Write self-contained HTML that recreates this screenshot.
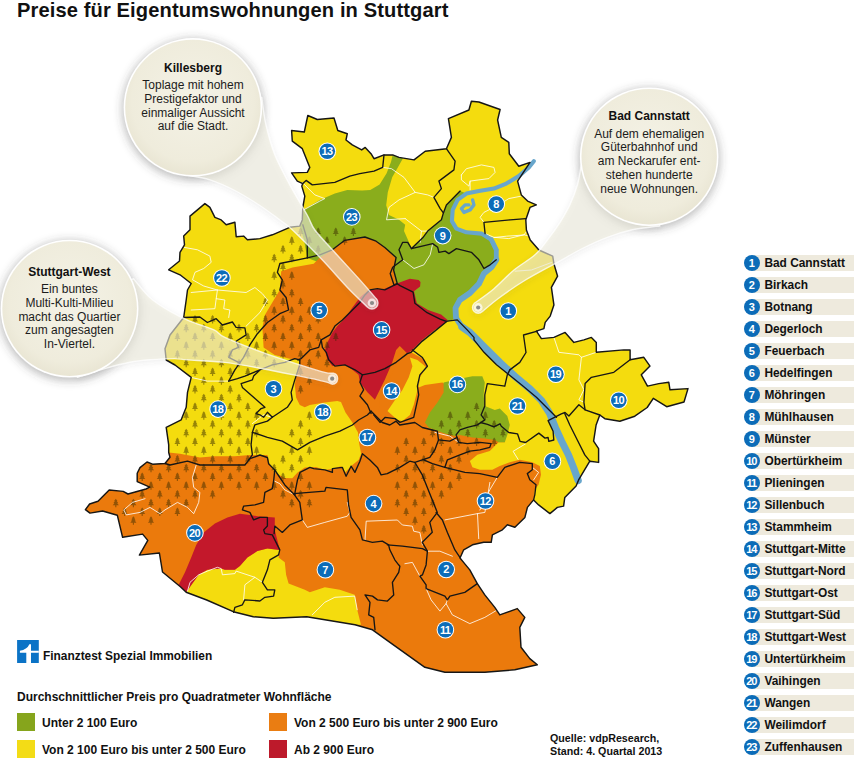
<!DOCTYPE html>
<html><head><meta charset="utf-8">
<style>
html,body{margin:0;padding:0;background:#fff;}
body{width:858px;height:761px;position:relative;overflow:hidden;font-family:"Liberation Sans",sans-serif;color:#111;}
.title{position:absolute;left:17px;top:-1px;font-size:20.1px;font-weight:bold;letter-spacing:0.12px;white-space:nowrap;}
.row{position:absolute;left:743.8px;width:112px;height:17px;}
.row .bar{position:absolute;left:9px;top:0px;width:101px;height:15.5px;background:#eeeadd;}
.row .num{position:absolute;left:0;top:0;width:16px;height:16px;border-radius:50%;background:#0c6cb8;color:#fff;font-size:11px;font-weight:bold;text-align:center;line-height:16px;}
.row .num.two{letter-spacing:-1px;text-indent:-1px;font-size:11px;}
.row .nm{position:absolute;left:20.6px;top:0px;font-size:11.9px;font-weight:bold;line-height:16px;white-space:nowrap;}
.t{position:absolute;white-space:nowrap;}
.lg{font-size:12px;font-weight:bold;}
.sw{position:absolute;width:17.5px;height:17.5px;}
svg{position:absolute;left:0;top:0;}
</style></head><body>
<svg width="858" height="761" viewBox="0 0 858 761">
<defs>
<pattern id="trees" x="-3.00" y="0.02" width="17.6" height="17.5" patternUnits="userSpaceOnUse">
<path d="M0,-3.9 L1.5,-1.9 L0.8,-1.9 L2.1,-0.2 L1.2,-0.2 L2.7,1.9 L0.5,1.9 L0.5,3.6 L-0.5,3.6 L-0.5,1.9 L-2.7,1.9 L-1.2,-0.2 L-2.1,-0.2 L-0.8,-1.9 L-1.5,-1.9 Z" transform="translate(4.40,4.38) scale(1.12)" fill="#3a2c00" fill-opacity="0.5"/>
<path d="M0,-3.9 L1.5,-1.9 L0.8,-1.9 L2.1,-0.2 L1.2,-0.2 L2.7,1.9 L0.5,1.9 L0.5,3.6 L-0.5,3.6 L-0.5,1.9 L-2.7,1.9 L-1.2,-0.2 L-2.1,-0.2 L-0.8,-1.9 L-1.5,-1.9 Z" transform="translate(13.20,13.12) scale(1.12)" fill="#3a2c00" fill-opacity="0.5"/>
</pattern>
<clipPath id="city"><polygon points="291.6,130.5 304.3,132.0 307.8,115.5 317.3,119.5 334.0,118.0 337.8,130.5 347.3,133.7 346.0,140.0 352.3,144.9 361.7,149.9 365.2,147.4 371.0,153.7 374.0,158.7 384.0,154.9 392.7,154.9 399.0,157.4 414.0,159.9 425.2,151.2 446.4,148.7 451.4,137.4 448.4,118.7 468.9,110.0 471.4,101.2 478.9,102.0 500.1,109.5 497.6,120.0 501.3,137.4 508.8,142.4 509.3,153.7 518.8,166.2 530.0,162.4 517.6,181.1 521.3,194.9 527.6,201.1 536.3,204.9 530.0,207.4 525.8,219.8 526.4,230.0 530.2,240.0 538.9,250.0 552.7,256.2 553.9,263.7 557.6,276.2 551.4,287.4 553.9,304.9 550.2,316.1 545.2,322.4 543.9,328.6 536.4,331.1 541.4,338.6 553.9,337.4 565.1,332.4 573.9,342.4 583.9,339.9 591.4,337.4 596.3,342.4 596.3,352.3 623.8,349.9 630.1,349.9 630.1,359.8 643.8,357.3 650.0,366.1 641.3,374.8 647.5,386.1 658.8,383.6 668.8,382.3 670.0,389.8 688.0,388.6 684.0,402.0 666.7,406.7 653.3,398.3 647.2,407.5 634.8,416.2 619.8,421.2 604.8,418.7 599.8,415.0 596.1,425.0 593.6,441.2 598.6,448.7 598.6,462.4 589.8,461.2 578.6,479.9 576.1,486.1 564.8,497.4 563.6,506.1 557.4,507.4 549.9,513.6 538.6,504.9 533.6,499.9 527.4,507.4 524.9,517.4 514.9,527.3 507.4,524.8 502.4,529.8 492.4,534.8 491.2,542.3 483.7,542.3 472.5,544.8 463.7,549.8 460.0,558.0 463.6,562.4 469.8,569.9 477.3,583.6 484.8,594.9 494.8,607.4 499.8,614.9 517.3,608.6 524.8,617.4 519.8,627.3 521.0,647.3 529.8,658.6 537.3,664.8 514.8,669.8 484.8,672.3 444.9,672.3 424.9,667.3 407.4,654.8 389.9,642.3 372.5,629.8 355.0,624.8 340.0,622.3 306.7,616.7 273.3,618.3 253.3,616.7 233.3,611.7 206.7,600.0 186.2,592.3 180.4,586.7 162.5,572.0 159.4,553.0 139.4,555.1 147.8,540.4 142.6,534.1 122.6,537.3 117.3,515.2 102.6,511.0 90.0,513.1 85.4,509.6 89.6,504.0 98.0,501.2 109.2,490.0 123.2,491.4 128.0,494.0 146.0,489.0 149.8,487.2 137.2,481.6 137.2,473.2 140.0,467.6 147.0,462.0 152.6,464.2 165.0,463.5 170.0,457.3 168.7,452.5 168.7,444.8 166.2,427.3 181.2,419.8 186.2,407.3 187.5,392.4 191.2,377.4 175.0,365.0 166.2,360.0 165.0,348.7 170.0,335.0 183.7,317.5 186.2,300.0 187.5,290.0 191.2,283.5 180.0,274.8 168.7,269.8 179.5,261.0 180.0,252.3 184.5,244.8 183.7,236.1 190.0,229.8 190.0,216.1 204.9,203.6 209.9,207.4 214.9,217.4 221.2,219.9 226.2,224.8 234.9,222.3 236.2,236.8 243.6,236.1 247.4,239.8 259.9,238.6 272.4,234.8 289.8,227.3 299.8,226.1 302.3,219.9 302.8,207.4 304.8,196.1 301.8,186.1 302.8,183.6 297.3,181.1 291.6,172.9 307.3,172.4 309.8,167.4 302.3,148.7 292.3,141.2"/></clipPath>
<filter id="blur" x="-30%" y="-30%" width="160%" height="160%"><feGaussianBlur stdDeviation="4"/></filter><filter id="blur2" x="-30%" y="-30%" width="160%" height="160%"><feGaussianBlur stdDeviation="3"/></filter>
<radialGradient id="bub" cx="50%" cy="45%" r="60%"><stop offset="0" stop-color="#f4f2e6"/><stop offset="0.75" stop-color="#efecdc"/><stop offset="1" stop-color="#e6e2cf"/></radialGradient>
</defs>
<polygon points="291.6,130.5 304.3,132.0 307.8,115.5 317.3,119.5 334.0,118.0 337.8,130.5 347.3,133.7 346.0,140.0 352.3,144.9 361.7,149.9 365.2,147.4 371.0,153.7 374.0,158.7 384.0,154.9 392.7,154.9 399.0,157.4 414.0,159.9 425.2,151.2 446.4,148.7 451.4,137.4 448.4,118.7 468.9,110.0 471.4,101.2 478.9,102.0 500.1,109.5 497.6,120.0 501.3,137.4 508.8,142.4 509.3,153.7 518.8,166.2 530.0,162.4 517.6,181.1 521.3,194.9 527.6,201.1 536.3,204.9 530.0,207.4 525.8,219.8 526.4,230.0 530.2,240.0 538.9,250.0 552.7,256.2 553.9,263.7 557.6,276.2 551.4,287.4 553.9,304.9 550.2,316.1 545.2,322.4 543.9,328.6 536.4,331.1 541.4,338.6 553.9,337.4 565.1,332.4 573.9,342.4 583.9,339.9 591.4,337.4 596.3,342.4 596.3,352.3 623.8,349.9 630.1,349.9 630.1,359.8 643.8,357.3 650.0,366.1 641.3,374.8 647.5,386.1 658.8,383.6 668.8,382.3 670.0,389.8 688.0,388.6 684.0,402.0 666.7,406.7 653.3,398.3 647.2,407.5 634.8,416.2 619.8,421.2 604.8,418.7 599.8,415.0 596.1,425.0 593.6,441.2 598.6,448.7 598.6,462.4 589.8,461.2 578.6,479.9 576.1,486.1 564.8,497.4 563.6,506.1 557.4,507.4 549.9,513.6 538.6,504.9 533.6,499.9 527.4,507.4 524.9,517.4 514.9,527.3 507.4,524.8 502.4,529.8 492.4,534.8 491.2,542.3 483.7,542.3 472.5,544.8 463.7,549.8 460.0,558.0 463.6,562.4 469.8,569.9 477.3,583.6 484.8,594.9 494.8,607.4 499.8,614.9 517.3,608.6 524.8,617.4 519.8,627.3 521.0,647.3 529.8,658.6 537.3,664.8 514.8,669.8 484.8,672.3 444.9,672.3 424.9,667.3 407.4,654.8 389.9,642.3 372.5,629.8 355.0,624.8 340.0,622.3 306.7,616.7 273.3,618.3 253.3,616.7 233.3,611.7 206.7,600.0 186.2,592.3 180.4,586.7 162.5,572.0 159.4,553.0 139.4,555.1 147.8,540.4 142.6,534.1 122.6,537.3 117.3,515.2 102.6,511.0 90.0,513.1 85.4,509.6 89.6,504.0 98.0,501.2 109.2,490.0 123.2,491.4 128.0,494.0 146.0,489.0 149.8,487.2 137.2,481.6 137.2,473.2 140.0,467.6 147.0,462.0 152.6,464.2 165.0,463.5 170.0,457.3 168.7,452.5 168.7,444.8 166.2,427.3 181.2,419.8 186.2,407.3 187.5,392.4 191.2,377.4 175.0,365.0 166.2,360.0 165.0,348.7 170.0,335.0 183.7,317.5 186.2,300.0 187.5,290.0 191.2,283.5 180.0,274.8 168.7,269.8 179.5,261.0 180.0,252.3 184.5,244.8 183.7,236.1 190.0,229.8 190.0,216.1 204.9,203.6 209.9,207.4 214.9,217.4 221.2,219.9 226.2,224.8 234.9,222.3 236.2,236.8 243.6,236.1 247.4,239.8 259.9,238.6 272.4,234.8 289.8,227.3 299.8,226.1 302.3,219.9 302.8,207.4 304.8,196.1 301.8,186.1 302.8,183.6 297.3,181.1 291.6,172.9 307.3,172.4 309.8,167.4 302.3,148.7 292.3,141.2" fill="#f4dc0e"/>
<polygon points="303.6,209.9 319.8,199.9 334.8,193.6 347.3,189.9 362.0,190.5 370.3,190.0 379.6,184.5 386.5,173.6 391.0,162.0 392.7,154.9 399.0,157.4 403.0,158.3 397.5,168.0 392.2,177.3 387.8,192.3 386.2,205.3 389.0,215.0 399.0,219.8 405.2,224.8 404.0,231.1 409.0,242.3 411.5,248.6 422.7,237.8 427.7,231.1 441.4,219.8 443.4,212.9 446.4,204.9 460.1,191.1 466.4,193.6 457.6,199.9 452.7,209.9 451.9,221.1 456.4,228.6 466.4,232.3 481.4,233.6 491.4,239.8 496.3,249.8 496.3,259.8 491.4,267.3 483.9,273.5 479.0,283.7 470.0,293.0 459.8,300.0 455.5,308.0 456.0,318.0 430.0,330.0 380.0,320.0 340.0,270.0 307.3,258.0 304.0,240.0 299.8,226.1 302.3,219.9" fill="#8aad1c"/>
<polygon points="279.8,290.0 281.2,271.2 292.5,267.5 313.7,263.7 319.9,257.5 332.4,250.0 344.9,240.0 357.4,237.5 369.9,238.7 377.4,241.2 384.8,247.5 392.3,255.0 396.1,258.7 393.6,269.9 396.1,283.7 410.0,300.0 415.0,345.0 411.1,352.3 412.0,357.5 412.4,366.2 408.7,377.4 402.4,389.9 395.0,399.9 387.5,411.1 390.0,440.0 361.1,453.7 359.0,442.4 358.0,432.5 352.4,422.5 345.5,412.5 341.0,402.0 337.3,401.1 324.8,402.4 309.8,404.9 304.8,407.3 299.8,404.9 296.1,397.4 294.8,384.9 297.3,369.9 299.8,359.9 289.8,358.7 274.8,354.9 263.6,347.4 262.4,327.4 264.9,315.0 272.3,302.5" fill="#eb7a0c"/>
<polygon points="168.7,452.5 180.0,453.7 199.9,457.5 214.9,456.2 234.9,456.2 249.9,455.0 267.4,455.0 269.9,465.0 274.8,472.5 284.8,477.9 292.3,478.2 297.3,472.7 304.8,467.5 316.0,467.0 324.8,470.0 332.4,468.7 341.1,466.2 344.9,472.4 348.6,468.7 352.4,464.9 358.6,459.9 361.1,453.7 375.0,440.0 380.0,400.0 405.0,345.0 411.1,352.3 424.8,359.8 427.3,366.1 419.8,377.3 418.7,387.4 424.9,384.9 442.4,382.4 470.0,400.0 500.0,425.0 504.8,442.3 498.6,442.3 489.8,451.1 477.4,454.8 469.9,461.1 472.4,467.3 479.9,469.8 492.3,469.8 499.8,466.1 509.8,462.3 519.8,459.8 532.3,462.3 539.8,466.1 541.0,474.8 538.5,484.8 534.8,489.8 533.6,499.9 533.6,499.9 527.4,507.4 524.9,517.4 514.9,527.3 507.4,524.8 502.4,529.8 492.4,534.8 491.2,542.3 483.7,542.3 472.5,544.8 463.7,549.8 460.0,558.0 463.6,562.4 469.8,569.9 477.3,583.6 484.8,594.9 494.8,607.4 499.8,614.9 517.3,608.6 524.8,617.4 519.8,627.3 521.0,647.3 529.8,658.6 537.3,664.8 514.8,669.8 484.8,672.3 444.9,672.3 424.9,667.3 407.4,654.8 389.9,642.3 372.5,629.8 355.0,624.8 340.0,622.3 306.7,616.7 273.3,618.3 253.3,616.7 233.3,611.7 206.7,600.0 186.2,592.3 180.4,586.7 162.5,572.0 159.4,553.0 139.4,555.1 147.8,540.4 142.6,534.1 122.6,537.3 117.3,515.2 102.6,511.0 90.0,513.1 85.4,509.6 89.6,504.0 98.0,501.2 109.2,490.0 123.2,491.4 128.0,494.0 146.0,489.0 149.8,487.2 137.2,481.6 137.2,473.2 140.0,467.6 147.0,462.0 152.6,464.2 165.0,463.5 170.0,457.3" fill="#eb7a0c"/>
<polygon points="409.9,357.5 417.4,360.0 423.7,364.9 427.4,368.7 419.9,374.9 418.7,384.9 416.2,394.9 413.7,404.9 409.9,414.9 402.4,421.1 397.5,419.9 387.5,411.1 395.0,399.9 402.4,389.9 408.7,377.4 412.4,366.2" fill="#f4dc0e"/>
<polygon points="186.2,592.3 192.4,583.6 198.7,574.8 207.4,569.8 221.2,568.6 224.9,569.8 234.9,569.8 239.9,566.1 247.4,557.4 257.4,551.1 267.4,548.6 279.8,549.9 278.6,557.4 284.8,562.3 286.1,574.8 288.6,583.6 304.8,589.8 309.8,592.3 324.8,587.3 339.8,589.8 354.7,594.8 357.2,609.8 361.0,624.8 355.0,624.8 340.0,622.3 306.7,616.7 273.3,618.3 253.3,616.7 233.3,611.7 206.7,600.0 186.2,592.3" fill="#f4dc0e"/>
<polygon points="443.6,382.4 459.9,378.7 472.4,376.2 482.3,376.2 484.8,382.4 483.6,394.9 484.8,406.1 494.8,409.9 499.8,408.6 507.3,416.1 509.8,424.9 507.3,434.9 504.8,442.3 498.6,442.3 494.8,439.9 484.8,438.6 472.4,437.4 459.9,434.9 454.9,436.1 444.9,433.6 434.9,429.9 428.7,427.4 424.9,422.4 429.9,412.4 437.4,402.4 443.6,392.4" fill="#8aad1c"/>
<polygon points="368.6,289.9 384.8,288.7 396.1,283.7 409.8,278.7 418.6,279.9 420.5,282.0 420.1,286.5 414.0,291.2 416.8,303.3 428.0,309.9 441.1,314.5 447.6,320.1 444.8,323.6 434.8,329.9 422.3,339.9 412.3,349.9 407.3,353.6 399.8,346.1 396.1,349.9 392.3,362.3 384.8,379.8 374.9,399.8 367.4,392.3 359.9,382.3 358.6,374.8 352.4,369.8 344.9,364.8 332.4,366.1 327.4,359.8 324.9,349.9 327.4,342.4 332.4,332.4 337.4,326.1 344.9,318.6 352.4,307.4 359.9,297.4" fill="#c3182b"/>
<polygon points="239.9,513.7 249.9,514.9 257.4,516.2 274.8,517.4 274.8,529.9 277.3,539.9 279.8,549.9 267.4,548.6 257.4,551.1 247.4,557.4 239.9,566.1 234.9,569.8 224.9,569.8 221.2,568.6 207.4,569.8 198.7,574.8 192.4,583.6 186.2,592.3 178.7,584.8 185.0,572.3 191.2,557.4 196.2,544.9 203.7,532.4 214.9,523.6 227.4,517.4" fill="#c3182b"/>
<defs><path id="tr" d="M0,-3.9 L1.5,-1.9 L0.8,-1.9 L2.1,-0.2 L1.2,-0.2 L2.7,1.9 L0.5,1.9 L0.5,3.6 L-0.5,3.6 L-0.5,1.9 L-2.7,1.9 L-1.2,-0.2 L-2.1,-0.2 L-0.8,-1.9 L-1.5,-1.9 Z" transform="scale(1.12)"/></defs><g fill="#3a2c00" fill-opacity="0.5"><use href="#tr" x="291.8" y="240.6"/><use href="#tr" x="300.6" y="231.9"/><use href="#tr" x="309.4" y="240.6"/><use href="#tr" x="318.2" y="231.9"/><use href="#tr" x="327.0" y="240.6"/><use href="#tr" x="335.8" y="231.9"/><use href="#tr" x="344.6" y="240.6"/><use href="#tr" x="353.4" y="231.9"/><use href="#tr" x="274.2" y="258.1"/><use href="#tr" x="283.0" y="249.4"/><use href="#tr" x="291.8" y="258.1"/><use href="#tr" x="300.6" y="249.4"/><use href="#tr" x="318.2" y="249.4"/><use href="#tr" x="274.2" y="275.6"/><use href="#tr" x="283.0" y="266.9"/><use href="#tr" x="291.8" y="275.6"/><use href="#tr" x="274.2" y="293.1"/><use href="#tr" x="283.0" y="284.4"/><use href="#tr" x="291.8" y="293.1"/><use href="#tr" x="265.4" y="301.9"/><use href="#tr" x="274.2" y="310.6"/><use href="#tr" x="283.0" y="301.9"/><use href="#tr" x="291.8" y="310.6"/><use href="#tr" x="300.6" y="301.9"/><use href="#tr" x="309.4" y="310.6"/><use href="#tr" x="186.2" y="328.1"/><use href="#tr" x="195.0" y="319.4"/><use href="#tr" x="203.8" y="328.1"/><use href="#tr" x="212.6" y="319.4"/><use href="#tr" x="221.4" y="328.1"/><use href="#tr" x="239.0" y="328.1"/><use href="#tr" x="256.6" y="328.1"/><use href="#tr" x="265.4" y="319.4"/><use href="#tr" x="274.2" y="328.1"/><use href="#tr" x="283.0" y="319.4"/><use href="#tr" x="291.8" y="328.1"/><use href="#tr" x="300.6" y="319.4"/><use href="#tr" x="309.4" y="328.1"/><use href="#tr" x="318.2" y="319.4"/><use href="#tr" x="177.4" y="336.9"/><use href="#tr" x="186.2" y="345.6"/><use href="#tr" x="195.0" y="336.9"/><use href="#tr" x="203.8" y="345.6"/><use href="#tr" x="212.6" y="336.9"/><use href="#tr" x="221.4" y="345.6"/><use href="#tr" x="230.2" y="336.9"/><use href="#tr" x="239.0" y="345.6"/><use href="#tr" x="247.8" y="336.9"/><use href="#tr" x="256.6" y="345.6"/><use href="#tr" x="265.4" y="336.9"/><use href="#tr" x="274.2" y="345.6"/><use href="#tr" x="283.0" y="336.9"/><use href="#tr" x="291.8" y="345.6"/><use href="#tr" x="300.6" y="336.9"/><use href="#tr" x="309.4" y="345.6"/><use href="#tr" x="318.2" y="336.9"/><use href="#tr" x="327.0" y="345.6"/><use href="#tr" x="335.8" y="336.9"/><use href="#tr" x="177.4" y="354.4"/><use href="#tr" x="186.2" y="363.1"/><use href="#tr" x="195.0" y="354.4"/><use href="#tr" x="203.8" y="363.1"/><use href="#tr" x="212.6" y="354.4"/><use href="#tr" x="221.4" y="363.1"/><use href="#tr" x="230.2" y="354.4"/><use href="#tr" x="239.0" y="363.1"/><use href="#tr" x="247.8" y="354.4"/><use href="#tr" x="256.6" y="363.1"/><use href="#tr" x="265.4" y="354.4"/><use href="#tr" x="274.2" y="363.1"/><use href="#tr" x="283.0" y="354.4"/><use href="#tr" x="300.6" y="354.4"/><use href="#tr" x="309.4" y="363.1"/><use href="#tr" x="318.2" y="354.4"/><use href="#tr" x="327.0" y="363.1"/><use href="#tr" x="195.0" y="371.9"/><use href="#tr" x="203.8" y="380.6"/><use href="#tr" x="212.6" y="371.9"/><use href="#tr" x="221.4" y="380.6"/><use href="#tr" x="230.2" y="371.9"/><use href="#tr" x="247.8" y="371.9"/><use href="#tr" x="300.6" y="371.9"/><use href="#tr" x="309.4" y="380.6"/><use href="#tr" x="195.0" y="389.4"/><use href="#tr" x="203.8" y="398.1"/><use href="#tr" x="212.6" y="389.4"/><use href="#tr" x="221.4" y="398.1"/><use href="#tr" x="230.2" y="389.4"/><use href="#tr" x="239.0" y="398.1"/><use href="#tr" x="300.6" y="389.4"/><use href="#tr" x="186.2" y="415.6"/><use href="#tr" x="195.0" y="406.9"/><use href="#tr" x="203.8" y="415.6"/><use href="#tr" x="212.6" y="406.9"/><use href="#tr" x="221.4" y="415.6"/><use href="#tr" x="230.2" y="406.9"/><use href="#tr" x="239.0" y="415.6"/><use href="#tr" x="247.8" y="406.9"/><use href="#tr" x="256.6" y="415.6"/><use href="#tr" x="309.4" y="415.6"/><use href="#tr" x="450.2" y="415.6"/><use href="#tr" x="467.8" y="415.6"/><use href="#tr" x="476.6" y="406.9"/><use href="#tr" x="485.4" y="415.6"/><use href="#tr" x="186.2" y="433.1"/><use href="#tr" x="195.0" y="424.4"/><use href="#tr" x="203.8" y="433.1"/><use href="#tr" x="212.6" y="424.4"/><use href="#tr" x="221.4" y="433.1"/><use href="#tr" x="230.2" y="424.4"/><use href="#tr" x="239.0" y="433.1"/><use href="#tr" x="247.8" y="424.4"/><use href="#tr" x="256.6" y="433.1"/><use href="#tr" x="291.8" y="433.1"/><use href="#tr" x="300.6" y="424.4"/><use href="#tr" x="309.4" y="433.1"/><use href="#tr" x="432.6" y="433.1"/><use href="#tr" x="441.4" y="424.4"/><use href="#tr" x="450.2" y="433.1"/><use href="#tr" x="459.0" y="424.4"/><use href="#tr" x="467.8" y="433.1"/><use href="#tr" x="476.6" y="424.4"/><use href="#tr" x="485.4" y="433.1"/><use href="#tr" x="494.2" y="424.4"/><use href="#tr" x="503.0" y="433.1"/><use href="#tr" x="177.4" y="441.9"/><use href="#tr" x="186.2" y="450.6"/><use href="#tr" x="195.0" y="441.9"/><use href="#tr" x="203.8" y="450.6"/><use href="#tr" x="212.6" y="441.9"/><use href="#tr" x="221.4" y="450.6"/><use href="#tr" x="230.2" y="441.9"/><use href="#tr" x="239.0" y="450.6"/><use href="#tr" x="247.8" y="441.9"/><use href="#tr" x="256.6" y="450.6"/><use href="#tr" x="291.8" y="450.6"/><use href="#tr" x="300.6" y="441.9"/><use href="#tr" x="309.4" y="450.6"/><use href="#tr" x="397.4" y="450.6"/><use href="#tr" x="406.2" y="441.9"/><use href="#tr" x="415.0" y="450.6"/><use href="#tr" x="423.8" y="441.9"/><use href="#tr" x="432.6" y="450.6"/><use href="#tr" x="441.4" y="441.9"/><use href="#tr" x="450.2" y="450.6"/><use href="#tr" x="459.0" y="441.9"/><use href="#tr" x="467.8" y="450.6"/><use href="#tr" x="476.6" y="441.9"/><use href="#tr" x="494.2" y="441.9"/><use href="#tr" x="151.0" y="468.1"/><use href="#tr" x="168.6" y="468.1"/><use href="#tr" x="177.4" y="459.4"/><use href="#tr" x="186.2" y="468.1"/><use href="#tr" x="195.0" y="459.4"/><use href="#tr" x="203.8" y="468.1"/><use href="#tr" x="212.6" y="459.4"/><use href="#tr" x="221.4" y="468.1"/><use href="#tr" x="230.2" y="459.4"/><use href="#tr" x="239.0" y="468.1"/><use href="#tr" x="247.8" y="459.4"/><use href="#tr" x="256.6" y="468.1"/><use href="#tr" x="274.2" y="468.1"/><use href="#tr" x="283.0" y="459.4"/><use href="#tr" x="291.8" y="468.1"/><use href="#tr" x="300.6" y="459.4"/><use href="#tr" x="397.4" y="468.1"/><use href="#tr" x="406.2" y="459.4"/><use href="#tr" x="415.0" y="468.1"/><use href="#tr" x="423.8" y="459.4"/><use href="#tr" x="432.6" y="468.1"/><use href="#tr" x="441.4" y="459.4"/><use href="#tr" x="450.2" y="468.1"/><use href="#tr" x="459.0" y="459.4"/><use href="#tr" x="142.2" y="476.9"/><use href="#tr" x="151.0" y="485.6"/><use href="#tr" x="159.8" y="476.9"/><use href="#tr" x="168.6" y="485.6"/><use href="#tr" x="177.4" y="476.9"/><use href="#tr" x="186.2" y="485.6"/><use href="#tr" x="195.0" y="476.9"/><use href="#tr" x="203.8" y="485.6"/><use href="#tr" x="212.6" y="476.9"/><use href="#tr" x="221.4" y="485.6"/><use href="#tr" x="230.2" y="476.9"/><use href="#tr" x="239.0" y="485.6"/><use href="#tr" x="247.8" y="476.9"/><use href="#tr" x="256.6" y="485.6"/><use href="#tr" x="265.4" y="476.9"/><use href="#tr" x="274.2" y="485.6"/><use href="#tr" x="283.0" y="476.9"/><use href="#tr" x="291.8" y="485.6"/><use href="#tr" x="300.6" y="476.9"/><use href="#tr" x="309.4" y="485.6"/><use href="#tr" x="397.4" y="485.6"/><use href="#tr" x="406.2" y="476.9"/><use href="#tr" x="415.0" y="485.6"/><use href="#tr" x="423.8" y="476.9"/><use href="#tr" x="432.6" y="485.6"/><use href="#tr" x="441.4" y="476.9"/><use href="#tr" x="450.2" y="485.6"/><use href="#tr" x="459.0" y="476.9"/><use href="#tr" x="115.8" y="503.1"/><use href="#tr" x="133.4" y="503.1"/><use href="#tr" x="142.2" y="494.4"/><use href="#tr" x="151.0" y="503.1"/><use href="#tr" x="159.8" y="494.4"/><use href="#tr" x="168.6" y="503.1"/><use href="#tr" x="177.4" y="494.4"/><use href="#tr" x="186.2" y="503.1"/><use href="#tr" x="195.0" y="494.4"/><use href="#tr" x="212.6" y="494.4"/><use href="#tr" x="283.0" y="494.4"/><use href="#tr" x="291.8" y="503.1"/><use href="#tr" x="300.6" y="494.4"/><use href="#tr" x="309.4" y="503.1"/><use href="#tr" x="397.4" y="503.1"/><use href="#tr" x="406.2" y="494.4"/><use href="#tr" x="415.0" y="503.1"/><use href="#tr" x="423.8" y="494.4"/><use href="#tr" x="432.6" y="503.1"/><use href="#tr" x="441.4" y="494.4"/><use href="#tr" x="124.6" y="511.9"/><use href="#tr" x="133.4" y="520.6"/><use href="#tr" x="142.2" y="511.9"/><use href="#tr" x="151.0" y="520.6"/><use href="#tr" x="159.8" y="511.9"/><use href="#tr" x="177.4" y="511.9"/><use href="#tr" x="406.2" y="511.9"/><use href="#tr" x="415.0" y="520.6"/><use href="#tr" x="423.8" y="511.9"/><use href="#tr" x="423.8" y="529.4"/></g>
<polyline points="302.3,182.4 314.8,194.9 324.8,198.6 319.8,201.1 303.6,209.9" fill="none" stroke="#fff" stroke-width="0.9" stroke-linejoin="round" stroke-linecap="round" stroke-opacity="0.9"/>
<polyline points="196.2,465.0 192.4,477.5 193.7,487.4 199.9,492.4 198.7,502.4 193.7,513.7 187.5,507.4 177.5,502.4 165.0,509.9 160.0,513.7 150.0,507.4 140.0,512.4 126.3,514.9 123.8,509.9 132.5,502.4 145.0,498.7" fill="none" stroke="#fff" stroke-width="0.9" stroke-linejoin="round" stroke-linecap="round" stroke-opacity="0.9"/>
<polyline points="187.5,591.1 190.0,582.3 198.7,574.8 207.4,571.1 217.4,567.3 221.2,568.6 222.4,574.8 234.9,573.6 236.1,571.1 254.9,577.3 244.9,584.8 243.6,599.8" fill="none" stroke="#fff" stroke-width="0.9" stroke-linejoin="round" stroke-linecap="round" stroke-opacity="0.9"/>
<polyline points="254.9,577.3 262.4,582.3" fill="none" stroke="#fff" stroke-width="0.9" stroke-linejoin="round" stroke-linecap="round" stroke-opacity="0.9"/>
<polyline points="302.3,519.9 307.3,527.4 324.8,522.4 347.3,516.2 349.8,512.4 347.3,502.4" fill="none" stroke="#fff" stroke-width="0.9" stroke-linejoin="round" stroke-linecap="round" stroke-opacity="0.9"/>
<polyline points="312.3,614.8 324.8,602.3 334.8,597.3 354.7,596.1 357.2,609.8" fill="none" stroke="#fff" stroke-width="0.9" stroke-linejoin="round" stroke-linecap="round" stroke-opacity="0.9"/>
<polyline points="489.9,482.4 484.9,512.4 477.5,513.6 445.0,519.9" fill="none" stroke="#fff" stroke-width="0.9" stroke-linejoin="round" stroke-linecap="round" stroke-opacity="0.9"/>
<polyline points="477.5,513.6 478.7,538.6" fill="none" stroke="#fff" stroke-width="0.9" stroke-linejoin="round" stroke-linecap="round" stroke-opacity="0.9"/>
<polyline points="525.6,443.8 513.1,451.3 518.1,459.4" fill="none" stroke="#fff" stroke-width="0.9" stroke-linejoin="round" stroke-linecap="round" stroke-opacity="0.9"/>
<polyline points="532.4,467.4 538.6,472.4 533.6,479.9" fill="none" stroke="#fff" stroke-width="0.9" stroke-linejoin="round" stroke-linecap="round" stroke-opacity="0.9"/>
<polyline points="553.9,337.4 558.9,352.3 578.9,354.8 581.4,357.3 596.3,352.3" fill="none" stroke="#fff" stroke-width="0.9" stroke-linejoin="round" stroke-linecap="round" stroke-opacity="0.9"/>
<polyline points="581.4,357.3 578.9,379.8 583.9,389.8 578.9,399.8 583.9,402.3" fill="none" stroke="#fff" stroke-width="0.9" stroke-linejoin="round" stroke-linecap="round" stroke-opacity="0.9"/>
<polyline points="426.1,588.6 431.1,599.9 439.9,611.1 446.1,603.6 447.4,599.9" fill="none" stroke="#fff" stroke-width="0.9" stroke-linejoin="round" stroke-linecap="round" stroke-opacity="0.9"/>
<polyline points="446.1,603.6 452.4,614.9 469.8,623.6 484.8,617.4 497.3,609.9" fill="none" stroke="#fff" stroke-width="0.9" stroke-linejoin="round" stroke-linecap="round" stroke-opacity="0.9"/>
<polyline points="404.9,563.7 412.4,562.4 419.9,576.2" fill="none" stroke="#fff" stroke-width="0.9" stroke-linejoin="round" stroke-linecap="round" stroke-opacity="0.9"/>
<polyline points="427.4,551.2 439.9,551.2 452.4,556.2" fill="none" stroke="#fff" stroke-width="0.9" stroke-linejoin="round" stroke-linecap="round" stroke-opacity="0.9"/>
<polyline points="365.0,540.0 366.2,521.2 397.4,520.0 402.4,525.0 412.4,526.2 413.7,531.2 419.9,532.5 422.4,544.9" fill="none" stroke="#fff" stroke-width="0.9" stroke-linejoin="round" stroke-linecap="round" stroke-opacity="0.9"/>
<polyline points="461.4,174.9 466.4,168.7 481.4,164.9 493.9,167.4 495.1,172.4 488.9,178.6 478.9,179.9 470.1,181.1 468.9,186.1 461.4,179.9 461.4,174.9" fill="none" stroke="#fff" stroke-width="0.9" stroke-linejoin="round" stroke-linecap="round" stroke-opacity="0.9"/>
<polyline points="470.1,181.1 470.1,189.9" fill="none" stroke="#fff" stroke-width="0.9" stroke-linejoin="round" stroke-linecap="round" stroke-opacity="0.9"/>
<polyline points="521.3,196.1 508.8,198.6 498.8,204.9 483.9,212.4 480.1,217.3 483.9,222.3" fill="none" stroke="#fff" stroke-width="0.9" stroke-linejoin="round" stroke-linecap="round" stroke-opacity="0.9"/>
<polyline points="485.1,233.6 493.9,237.3 508.8,238.6 523.8,234.8 530.1,236.1" fill="none" stroke="#fff" stroke-width="0.9" stroke-linejoin="round" stroke-linecap="round" stroke-opacity="0.9"/>
<polyline points="382.7,167.4 391.5,168.7 404.0,177.4 415.2,192.4 399.0,199.9 389.0,207.4 386.5,219.8 405.2,218.6" fill="none" stroke="#fff" stroke-width="0.9" stroke-linejoin="round" stroke-linecap="round" stroke-opacity="0.9"/>
<polyline points="415.2,192.4 427.7,194.9 433.9,197.4" fill="none" stroke="#fff" stroke-width="0.9" stroke-linejoin="round" stroke-linecap="round" stroke-opacity="0.9"/>
<polyline points="405.2,218.6 421.4,231.1 427.7,231.1" fill="none" stroke="#fff" stroke-width="0.9" stroke-linejoin="round" stroke-linecap="round" stroke-opacity="0.9"/>
<polyline points="421.4,231.1 420.2,242.3" fill="none" stroke="#fff" stroke-width="0.9" stroke-linejoin="round" stroke-linecap="round" stroke-opacity="0.9"/>
<polyline points="432.7,243.6 430.2,254.8 423.9,264.8 414.0,268.5 402.7,259.8" fill="none" stroke="#fff" stroke-width="0.9" stroke-linejoin="round" stroke-linecap="round" stroke-opacity="0.9"/>
<polyline points="183.7,247.3 197.5,249.8 209.9,256.1 211.2,262.3 203.7,268.5 195.0,272.3 192.5,279.8 203.7,286.0 217.4,290.0" fill="none" stroke="#fff" stroke-width="0.9" stroke-linejoin="round" stroke-linecap="round" stroke-opacity="0.9"/>
<polyline points="191.2,292.5 217.4,290.0 246.1,292.5 254.9,287.5 262.4,293.7 267.4,300.0" fill="none" stroke="#fff" stroke-width="0.9" stroke-linejoin="round" stroke-linecap="round" stroke-opacity="0.9"/>
<polyline points="217.4,290.0 216.2,298.7 224.9,300.0 223.7,308.7 229.9,310.0 228.7,317.5" fill="none" stroke="#fff" stroke-width="0.9" stroke-linejoin="round" stroke-linecap="round" stroke-opacity="0.9"/>
<polyline points="191.2,310.0 214.9,308.7 216.2,298.7" fill="none" stroke="#fff" stroke-width="0.9" stroke-linejoin="round" stroke-linecap="round" stroke-opacity="0.9"/>
<polyline points="267.4,300.0 259.9,312.5 246.1,326.2" fill="none" stroke="#fff" stroke-width="0.9" stroke-linejoin="round" stroke-linecap="round" stroke-opacity="0.9"/>
<polyline points="191.2,377.4 207.4,381.1 228.7,381.1" fill="none" stroke="#fff" stroke-width="0.9" stroke-linejoin="round" stroke-linecap="round" stroke-opacity="0.9"/>
<polyline points="272.3,417.3 263.6,414.8 252.4,423.6" fill="none" stroke="#fff" stroke-width="0.9" stroke-linejoin="round" stroke-linecap="round" stroke-opacity="0.9"/>
<polyline points="274.8,481.2 279.8,483.7 284.8,489.9 292.3,493.7" fill="none" stroke="#fff" stroke-width="0.9" stroke-linejoin="round" stroke-linecap="round" stroke-opacity="0.9"/>
<polyline points="494.0,237.5 506.5,236.2 523.9,235.0 527.7,230.0" fill="none" stroke="#fff" stroke-width="0.9" stroke-linejoin="round" stroke-linecap="round" stroke-opacity="0.9"/>
<polyline points="515.2,271.2 531.4,270.0 551.4,262.5" fill="none" stroke="#fff" stroke-width="0.9" stroke-linejoin="round" stroke-linecap="round" stroke-opacity="0.9"/>
<polyline points="434.9,432.4 449.9,436.1 458.6,442.3" fill="none" stroke="#fff" stroke-width="0.9" stroke-linejoin="round" stroke-linecap="round" stroke-opacity="0.9"/>
<polyline points="479.9,510.0 489.8,489.8 497.3,477.3" fill="none" stroke="#fff" stroke-width="0.9" stroke-linejoin="round" stroke-linecap="round" stroke-opacity="0.9"/>
<polyline points="533.8,161.2 528.8,167.4 518.8,176.1 506.3,183.6 493.9,188.6 478.9,191.1 466.4,193.6 457.6,199.9 452.7,209.9 451.9,221.1 456.4,228.6 466.4,232.3 481.4,233.6 491.4,239.8 496.3,249.8" fill="none" stroke="#68a6cc" stroke-width="4.1" stroke-linejoin="round" stroke-linecap="round" />
<polyline points="491.4,239.8 496.3,249.8 496.3,259.8 491.4,267.3" fill="none" stroke="#68a6cc" stroke-width="4.8" stroke-linejoin="round" stroke-linecap="round" />
<polyline points="496.3,259.8 491.4,267.3 483.9,273.5 479.0,283.7 470.0,293.0 459.8,300.0 455.5,308.0 456.0,318.0 462.0,327.0" fill="none" stroke="#68a6cc" stroke-width="5.8" stroke-linejoin="round" stroke-linecap="round" />
<polyline points="462.0,327.0 469.9,332.5 484.8,347.5 499.8,362.4 514.8,376.2 529.8,388.7 541.5,400.5 549.5,413.0 555.3,427.4 561.5,441.0 568.5,455.0 573.5,467.5 578.2,480.5" fill="none" stroke="#68a6cc" stroke-width="7.2" stroke-linejoin="round" stroke-linecap="round" />
<polyline points="472.6,199.9 473.9,204.9 470.1,209.9 463.9,212.4 461.4,208.6 465.1,204.9 468.9,204.9" fill="none" stroke="#68a6cc" stroke-width="3.4" stroke-linejoin="round" stroke-linecap="round" />
<polyline points="302.8,183.6 306.1,180.4 312.3,184.9 334.8,182.4 349.8,176.2 359.8,173.7 374.0,171.2 382.7,167.4 384.0,154.9" fill="none" stroke="#161616" stroke-width="1.35" stroke-linejoin="round" stroke-linecap="round" />
<polyline points="302.8,224.8 307.3,239.8 307.3,257.8" fill="none" stroke="#161616" stroke-width="1.35" stroke-linejoin="round" stroke-linecap="round" />
<polyline points="307.3,257.8 279.9,263.5 277.4,272.3 282.3,279.8 279.9,290.0 286.1,297.5 288.6,310.0 279.8,313.7 267.4,322.5 257.4,333.7 249.9,344.9 243.6,357.4 234.9,369.9 228.7,381.1" fill="none" stroke="#161616" stroke-width="1.35" stroke-linejoin="round" stroke-linecap="round" />
<polyline points="307.3,257.8 319.8,254.8 332.3,249.8 344.8,240.3 364.9,237.0 376.1,241.2 384.8,247.5 396.1,257.5 393.6,270.0 397.3,283.7" fill="none" stroke="#161616" stroke-width="1.35" stroke-linejoin="round" stroke-linecap="round" />
<polyline points="397.3,283.7 384.8,289.9 377.4,288.7 369.9,289.9 364.9,294.9 359.9,302.4 352.4,309.9 342.4,319.9 334.9,326.1 329.9,334.9 321.2,339.9" fill="none" stroke="#161616" stroke-width="1.35" stroke-linejoin="round" stroke-linecap="round" />
<polyline points="321.2,339.9 318.7,347.4 309.9,349.9 301.2,358.6 297.5,359.8 299.8,359.9" fill="none" stroke="#161616" stroke-width="1.35" stroke-linejoin="round" stroke-linecap="round" />
<polyline points="228.7,381.1 237.4,378.6 244.9,376.1 259.9,369.9 272.3,364.9 284.8,362.4 294.8,358.7 299.8,359.9 299.8,364.9 294.8,379.9 291.1,392.4 292.3,399.9 287.3,407.3 272.3,417.3 267.4,412.3 263.6,417.3 259.9,414.8 256.1,413.6 261.1,408.6 264.9,407.3 242.4,387.4 241.1,383.6 252.4,379.9 253.6,376.1 259.9,369.9" fill="none" stroke="#161616" stroke-width="1.35" stroke-linejoin="round" stroke-linecap="round" />
<polyline points="183.7,317.5 199.9,317.0 207.4,322.5 216.2,318.7 222.4,325.0 232.4,322.0 236.1,327.4 244.9,327.9 246.1,334.9 236.1,341.2 238.6,347.4 232.4,349.9 228.7,357.4 238.6,362.4 240.4,361.7" fill="none" stroke="#161616" stroke-width="1.35" stroke-linejoin="round" stroke-linecap="round" />
<polyline points="397.3,283.7 400.0,285.6 413.1,292.1 414.9,303.3 427.1,312.7 440.1,319.2 446.7,321.5 434.8,331.1 422.3,341.1 411.1,352.3 407.3,353.6 396.1,362.3 384.8,368.6 374.9,372.3 362.4,374.8 354.9,369.8 344.9,364.8 334.9,366.1 328.7,359.8 326.2,352.3 322.4,347.4 321.2,339.9" fill="none" stroke="#161616" stroke-width="1.35" stroke-linejoin="round" stroke-linecap="round" />
<polyline points="362.4,374.8 359.9,382.3 363.6,389.8 359.9,396.0 367.4,404.8 371.1,413.5" fill="none" stroke="#161616" stroke-width="1.35" stroke-linejoin="round" stroke-linecap="round" />
<polyline points="371.1,411.2 367.4,415.0 358.6,420.0 352.4,425.0 339.9,431.2 324.9,436.2 309.9,442.4 297.5,449.9 282.3,441.1 267.4,437.3 252.4,432.3" fill="none" stroke="#161616" stroke-width="1.35" stroke-linejoin="round" stroke-linecap="round" />
<polyline points="272.3,417.3 267.4,421.1 254.9,424.8 252.4,432.3 251.1,444.8 252.4,454.8 248.6,459.8 249.9,458.7" fill="none" stroke="#161616" stroke-width="1.35" stroke-linejoin="round" stroke-linecap="round" />
<polyline points="165.0,463.5 170.0,465.0 187.5,461.2 199.9,465.0 224.9,465.0 244.9,465.0 249.9,458.7" fill="none" stroke="#161616" stroke-width="1.35" stroke-linejoin="round" stroke-linecap="round" />
<polyline points="249.9,458.7 259.9,455.0 267.4,457.5 268.6,463.7 274.8,470.0 273.6,481.2 272.3,488.7 264.9,492.4 263.6,502.4 254.9,504.9 243.6,506.2 242.4,509.9 249.9,512.4 253.6,519.9 259.9,517.4 267.4,517.4 267.4,526.1 263.6,529.9 264.9,533.6 272.3,534.9 274.8,539.9 277.3,544.9 279.8,549.9 278.6,554.9 269.9,559.9 267.4,569.8 262.4,582.3 267.4,589.8 274.8,589.8 273.6,596.1 264.9,597.3 259.9,601.0 244.9,599.8 242.4,604.8 234.9,607.3 233.6,612.3" fill="none" stroke="#161616" stroke-width="1.35" stroke-linejoin="round" stroke-linecap="round" />
<polyline points="274.8,470.0 284.8,484.9 293.6,493.7 299.8,502.4 302.3,519.9 289.8,524.9 282.3,532.4 274.8,526.1 274.1,533.6" fill="none" stroke="#161616" stroke-width="1.35" stroke-linejoin="round" stroke-linecap="round" />
<polyline points="293.6,493.7 324.8,491.2 326.0,487.4 347.3,489.9 348.6,504.9 351.1,517.4 359.9,529.8 362.4,539.8 372.4,542.3 382.3,541.1 388.6,544.8 389.8,549.8 394.8,559.8 398.6,564.8 399.9,566.2 398.7,572.4 392.4,582.4 393.7,594.9 387.4,601.1 377.5,599.9 372.5,596.1 365.0,594.9 370.0,602.4 368.7,614.9 373.7,617.4 375.0,629.8" fill="none" stroke="#161616" stroke-width="1.35" stroke-linejoin="round" stroke-linecap="round" />
<polyline points="371.1,411.2 382.3,422.5 389.8,425.0 396.1,421.2 399.8,425.0 414.8,422.5 422.3,427.5 432.3,430.0 437.3,431.2 438.5,440.0 434.8,449.9 429.8,457.4 414.8,462.4 409.8,461.2 399.8,467.4 387.3,473.7 381.1,474.9 377.4,467.4 369.9,459.9 362.4,453.7 359.9,461.2 354.9,472.4 351.1,466.2 346.1,476.2 342.4,467.4 332.4,468.7 332.4,472.4 324.9,469.9 313.7,468.7 309.9,467.4 300.0,472.4 297.5,479.9 295.0,492.4 295.0,494.9 293.6,493.7" fill="none" stroke="#161616" stroke-width="1.35" stroke-linejoin="round" stroke-linecap="round" />
<polyline points="414.8,462.4 422.3,474.9 427.3,487.4 432.3,499.9 437.3,512.4 429.8,522.3 432.3,532.3 422.3,542.3 427.4,551.2 426.1,564.9 422.4,574.9 419.9,576.2 426.1,584.9 426.1,588.6 444.9,596.1 447.4,599.9 449.9,596.1 464.8,592.4 477.3,583.6" fill="none" stroke="#161616" stroke-width="1.35" stroke-linejoin="round" stroke-linecap="round" />
<polyline points="387.4,544.9 402.4,546.2 422.4,548.7 427.4,551.2" fill="none" stroke="#161616" stroke-width="1.35" stroke-linejoin="round" stroke-linecap="round" />
<polyline points="436.1,512.5 442.4,520.0 447.4,532.5 454.9,549.9 459.9,557.4" fill="none" stroke="#161616" stroke-width="1.35" stroke-linejoin="round" stroke-linecap="round" />
<polyline points="423.7,459.8 432.4,463.6 444.9,467.3 447.4,459.8 459.9,454.8 469.9,451.1 479.9,449.8 489.8,447.3 491.1,443.6 479.9,442.3 467.4,443.6 458.6,442.3 456.1,434.9 459.9,429.9 467.4,427.4 477.4,424.9 484.8,419.9 481.1,414.9 484.8,406.1 484.8,394.9 487.3,383.7 504.8,386.2 507.3,374.9 509.8,369.9" fill="none" stroke="#161616" stroke-width="1.35" stroke-linejoin="round" stroke-linecap="round" />
<polyline points="536.4,331.1 537.3,331.2 523.5,335.0 526.0,352.5 519.8,362.4 509.8,369.9" fill="none" stroke="#161616" stroke-width="1.35" stroke-linejoin="round" stroke-linecap="round" />
<polyline points="444.9,467.3 464.9,472.3 479.9,473.6 497.3,477.3 504.8,467.3 519.8,462.3 532.3,463.6 532.3,469.8 527.3,473.6 529.8,479.8 536.0,484.8 534.8,494.8 533.6,499.9" fill="none" stroke="#161616" stroke-width="1.35" stroke-linejoin="round" stroke-linecap="round" />
<polyline points="438.5,439.9 449.8,441.2 457.2,437.4" fill="none" stroke="#161616" stroke-width="1.35" stroke-linejoin="round" stroke-linecap="round" />
<polyline points="412.4,350.0 422.4,357.5 427.4,366.2 419.9,374.9 417.4,386.2 418.7,394.9 416.2,406.1 413.7,417.4 400.0,422.4 395.0,418.6 385.0,417.4 380.0,422.4 373.7,414.9" fill="none" stroke="#161616" stroke-width="1.35" stroke-linejoin="round" stroke-linecap="round" />
<polyline points="480.6,422.5 487.5,424.4 493.8,426.9 500.0,423.8 501.3,426.3 508.8,432.5 517.5,433.8 520.0,441.3 525.6,442.5 538.8,433.1 545.0,438.1 548.1,437.5 548.8,441.3 553.8,440.0 553.1,431.3 548.1,420.6 561.3,413.8 565.0,412.5 568.9,416.0 578.9,404.8 585.1,409.8 599.8,415.0" fill="none" stroke="#161616" stroke-width="1.35" stroke-linejoin="round" stroke-linecap="round" />
<polyline points="564.8,413.7 569.8,425.0 577.3,440.0 584.8,454.9 589.8,461.2" fill="none" stroke="#161616" stroke-width="1.35" stroke-linejoin="round" stroke-linecap="round" />
<polyline points="447.3,321.1 457.3,319.9 467.2,329.9 474.0,337.4 474.0,339.9 484.0,352.3 496.5,364.8 509.0,374.8 521.4,384.8 536.4,397.3 548.9,409.8 556.4,417.3" fill="none" stroke="#161616" stroke-width="1.35" stroke-linejoin="round" stroke-linecap="round" />
<polyline points="630.1,359.8 613.8,372.3 591.4,377.3 585.1,383.6 583.9,402.3 585.1,409.8" fill="none" stroke="#161616" stroke-width="1.35" stroke-linejoin="round" stroke-linecap="round" />
<polyline points="446.4,148.7 455.1,161.2 453.9,169.9 438.9,181.1 441.4,188.6 433.9,197.4 440.2,208.6 443.4,212.9" fill="none" stroke="#161616" stroke-width="1.35" stroke-linejoin="round" stroke-linecap="round" />
<polyline points="460.1,191.1 446.4,204.9 443.4,212.9 441.4,219.8 427.7,231.1 422.7,237.8 411.5,248.6 432.7,243.6 437.7,247.3 438.9,252.3 445.2,251.1 448.9,253.6 456.4,248.6 471.4,252.3 478.9,259.8 483.9,268.5 490.1,264.8 496.3,259.8" fill="none" stroke="#161616" stroke-width="1.35" stroke-linejoin="round" stroke-linecap="round" />
<polyline points="411.5,248.6 407.7,242.3 402.7,242.3 399.0,249.8 402.7,259.8 392.7,267.3 390.2,273.5 394.0,285.0 397.3,283.7" fill="none" stroke="#161616" stroke-width="1.35" stroke-linejoin="round" stroke-linecap="round" />
<polyline points="525.8,218.6 510.1,219.8 483.9,222.3 485.1,233.6" fill="none" stroke="#161616" stroke-width="1.35" stroke-linejoin="round" stroke-linecap="round" />
<polygon points="291.6,130.5 304.3,132.0 307.8,115.5 317.3,119.5 334.0,118.0 337.8,130.5 347.3,133.7 346.0,140.0 352.3,144.9 361.7,149.9 365.2,147.4 371.0,153.7 374.0,158.7 384.0,154.9 392.7,154.9 399.0,157.4 414.0,159.9 425.2,151.2 446.4,148.7 451.4,137.4 448.4,118.7 468.9,110.0 471.4,101.2 478.9,102.0 500.1,109.5 497.6,120.0 501.3,137.4 508.8,142.4 509.3,153.7 518.8,166.2 530.0,162.4 517.6,181.1 521.3,194.9 527.6,201.1 536.3,204.9 530.0,207.4 525.8,219.8 526.4,230.0 530.2,240.0 538.9,250.0 552.7,256.2 553.9,263.7 557.6,276.2 551.4,287.4 553.9,304.9 550.2,316.1 545.2,322.4 543.9,328.6 536.4,331.1 541.4,338.6 553.9,337.4 565.1,332.4 573.9,342.4 583.9,339.9 591.4,337.4 596.3,342.4 596.3,352.3 623.8,349.9 630.1,349.9 630.1,359.8 643.8,357.3 650.0,366.1 641.3,374.8 647.5,386.1 658.8,383.6 668.8,382.3 670.0,389.8 688.0,388.6 684.0,402.0 666.7,406.7 653.3,398.3 647.2,407.5 634.8,416.2 619.8,421.2 604.8,418.7 599.8,415.0 596.1,425.0 593.6,441.2 598.6,448.7 598.6,462.4 589.8,461.2 578.6,479.9 576.1,486.1 564.8,497.4 563.6,506.1 557.4,507.4 549.9,513.6 538.6,504.9 533.6,499.9 527.4,507.4 524.9,517.4 514.9,527.3 507.4,524.8 502.4,529.8 492.4,534.8 491.2,542.3 483.7,542.3 472.5,544.8 463.7,549.8 460.0,558.0 463.6,562.4 469.8,569.9 477.3,583.6 484.8,594.9 494.8,607.4 499.8,614.9 517.3,608.6 524.8,617.4 519.8,627.3 521.0,647.3 529.8,658.6 537.3,664.8 514.8,669.8 484.8,672.3 444.9,672.3 424.9,667.3 407.4,654.8 389.9,642.3 372.5,629.8 355.0,624.8 340.0,622.3 306.7,616.7 273.3,618.3 253.3,616.7 233.3,611.7 206.7,600.0 186.2,592.3 180.4,586.7 162.5,572.0 159.4,553.0 139.4,555.1 147.8,540.4 142.6,534.1 122.6,537.3 117.3,515.2 102.6,511.0 90.0,513.1 85.4,509.6 89.6,504.0 98.0,501.2 109.2,490.0 123.2,491.4 128.0,494.0 146.0,489.0 149.8,487.2 137.2,481.6 137.2,473.2 140.0,467.6 147.0,462.0 152.6,464.2 165.0,463.5 170.0,457.3 168.7,452.5 168.7,444.8 166.2,427.3 181.2,419.8 186.2,407.3 187.5,392.4 191.2,377.4 175.0,365.0 166.2,360.0 165.0,348.7 170.0,335.0 183.7,317.5 186.2,300.0 187.5,290.0 191.2,283.5 180.0,274.8 168.7,269.8 179.5,261.0 180.0,252.3 184.5,244.8 183.7,236.1 190.0,229.8 190.0,216.1 204.9,203.6 209.9,207.4 214.9,217.4 221.2,219.9 226.2,224.8 234.9,222.3 236.2,236.8 243.6,236.1 247.4,239.8 259.9,238.6 272.4,234.8 289.8,227.3 299.8,226.1 302.3,219.9 302.8,207.4 304.8,196.1 301.8,186.1 302.8,183.6 297.3,181.1 291.6,172.9 307.3,172.4 309.8,167.4 302.3,148.7 292.3,141.2" fill="none" stroke="#161616" stroke-width="1.45" stroke-linejoin="round"/>
<circle cx="508.3" cy="311.0" r="8.8" fill="#fff"/><circle cx="508.3" cy="311.0" r="7.8" fill="#0c6cb8"/><text x="508.3" y="314.9" text-anchor="middle" font-family="Liberation Sans, sans-serif" font-weight="bold" font-size="11" fill="#fff">1</text>
<circle cx="446.2" cy="569.5" r="8.8" fill="#fff"/><circle cx="446.2" cy="569.5" r="7.8" fill="#0c6cb8"/><text x="446.2" y="573.4" text-anchor="middle" font-family="Liberation Sans, sans-serif" font-weight="bold" font-size="11" fill="#fff">2</text>
<circle cx="273.5" cy="388.8" r="8.8" fill="#fff"/><circle cx="273.5" cy="388.8" r="7.8" fill="#0c6cb8"/><text x="273.5" y="392.7" text-anchor="middle" font-family="Liberation Sans, sans-serif" font-weight="bold" font-size="11" fill="#fff">3</text>
<circle cx="373.6" cy="503.6" r="8.8" fill="#fff"/><circle cx="373.6" cy="503.6" r="7.8" fill="#0c6cb8"/><text x="373.6" y="507.5" text-anchor="middle" font-family="Liberation Sans, sans-serif" font-weight="bold" font-size="11" fill="#fff">4</text>
<circle cx="319.2" cy="310.4" r="8.8" fill="#fff"/><circle cx="319.2" cy="310.4" r="7.8" fill="#0c6cb8"/><text x="319.2" y="314.3" text-anchor="middle" font-family="Liberation Sans, sans-serif" font-weight="bold" font-size="11" fill="#fff">5</text>
<circle cx="552.4" cy="461.2" r="8.8" fill="#fff"/><circle cx="552.4" cy="461.2" r="7.8" fill="#0c6cb8"/><text x="552.4" y="465.1" text-anchor="middle" font-family="Liberation Sans, sans-serif" font-weight="bold" font-size="11" fill="#fff">6</text>
<circle cx="325.4" cy="569.8" r="8.8" fill="#fff"/><circle cx="325.4" cy="569.8" r="7.8" fill="#0c6cb8"/><text x="325.4" y="573.7" text-anchor="middle" font-family="Liberation Sans, sans-serif" font-weight="bold" font-size="11" fill="#fff">7</text>
<circle cx="496.3" cy="204.1" r="8.8" fill="#fff"/><circle cx="496.3" cy="204.1" r="7.8" fill="#0c6cb8"/><text x="496.3" y="208.0" text-anchor="middle" font-family="Liberation Sans, sans-serif" font-weight="bold" font-size="11" fill="#fff">8</text>
<circle cx="442.7" cy="235.6" r="8.8" fill="#fff"/><circle cx="442.7" cy="235.6" r="7.8" fill="#0c6cb8"/><text x="442.7" y="239.5" text-anchor="middle" font-family="Liberation Sans, sans-serif" font-weight="bold" font-size="11" fill="#fff">9</text>
<circle cx="618.8" cy="400.3" r="8.8" fill="#fff"/><circle cx="618.8" cy="400.3" r="7.8" fill="#0c6cb8"/><text x="618.5" y="404.2" text-anchor="middle" font-family="Liberation Sans, sans-serif" font-weight="bold" font-size="11" letter-spacing="-0.6" fill="#fff">10</text>
<circle cx="445.4" cy="629.8" r="8.8" fill="#fff"/><circle cx="445.4" cy="629.8" r="7.8" fill="#0c6cb8"/><text x="445.1" y="633.7" text-anchor="middle" font-family="Liberation Sans, sans-serif" font-weight="bold" font-size="11" letter-spacing="-0.6" fill="#fff">11</text>
<circle cx="485.5" cy="501.0" r="8.8" fill="#fff"/><circle cx="485.5" cy="501.0" r="7.8" fill="#0c6cb8"/><text x="485.2" y="504.9" text-anchor="middle" font-family="Liberation Sans, sans-serif" font-weight="bold" font-size="11" letter-spacing="-0.6" fill="#fff">12</text>
<circle cx="327.3" cy="151.2" r="8.8" fill="#fff"/><circle cx="327.3" cy="151.2" r="7.8" fill="#0c6cb8"/><text x="327.0" y="155.1" text-anchor="middle" font-family="Liberation Sans, sans-serif" font-weight="bold" font-size="11" letter-spacing="-0.6" fill="#fff">13</text>
<circle cx="391.6" cy="391.0" r="8.8" fill="#fff"/><circle cx="391.6" cy="391.0" r="7.8" fill="#0c6cb8"/><text x="391.3" y="394.9" text-anchor="middle" font-family="Liberation Sans, sans-serif" font-weight="bold" font-size="11" letter-spacing="-0.6" fill="#fff">14</text>
<circle cx="381.6" cy="329.9" r="8.8" fill="#fff"/><circle cx="381.6" cy="329.9" r="7.8" fill="#0c6cb8"/><text x="381.3" y="333.8" text-anchor="middle" font-family="Liberation Sans, sans-serif" font-weight="bold" font-size="11" letter-spacing="-0.6" fill="#fff">15</text>
<circle cx="457.4" cy="384.4" r="8.8" fill="#fff"/><circle cx="457.4" cy="384.4" r="7.8" fill="#0c6cb8"/><text x="457.1" y="388.3" text-anchor="middle" font-family="Liberation Sans, sans-serif" font-weight="bold" font-size="11" letter-spacing="-0.6" fill="#fff">16</text>
<circle cx="367.4" cy="437.5" r="8.8" fill="#fff"/><circle cx="367.4" cy="437.5" r="7.8" fill="#0c6cb8"/><text x="367.1" y="441.4" text-anchor="middle" font-family="Liberation Sans, sans-serif" font-weight="bold" font-size="11" letter-spacing="-0.6" fill="#fff">17</text>
<circle cx="218.1" cy="409.1" r="8.8" fill="#fff"/><circle cx="218.1" cy="409.1" r="7.8" fill="#0c6cb8"/><text x="217.8" y="413.0" text-anchor="middle" font-family="Liberation Sans, sans-serif" font-weight="bold" font-size="11" letter-spacing="-0.6" fill="#fff">18</text>
<circle cx="322.8" cy="412.0" r="8.8" fill="#fff"/><circle cx="322.8" cy="412.0" r="7.8" fill="#0c6cb8"/><text x="322.5" y="415.9" text-anchor="middle" font-family="Liberation Sans, sans-serif" font-weight="bold" font-size="11" letter-spacing="-0.6" fill="#fff">18</text>
<circle cx="555.9" cy="374.3" r="8.8" fill="#fff"/><circle cx="555.9" cy="374.3" r="7.8" fill="#0c6cb8"/><text x="555.6" y="378.2" text-anchor="middle" font-family="Liberation Sans, sans-serif" font-weight="bold" font-size="11" letter-spacing="-0.6" fill="#fff">19</text>
<circle cx="194.9" cy="532.9" r="8.8" fill="#fff"/><circle cx="194.9" cy="532.9" r="7.8" fill="#0c6cb8"/><text x="194.6" y="536.8" text-anchor="middle" font-family="Liberation Sans, sans-serif" font-weight="bold" font-size="11" letter-spacing="-0.6" fill="#fff">20</text>
<circle cx="517.5" cy="406.0" r="8.8" fill="#fff"/><circle cx="517.5" cy="406.0" r="7.8" fill="#0c6cb8"/><text x="517.2" y="409.9" text-anchor="middle" font-family="Liberation Sans, sans-serif" font-weight="bold" font-size="11" letter-spacing="-0.6" fill="#fff">21</text>
<circle cx="221.9" cy="278.0" r="8.8" fill="#fff"/><circle cx="221.9" cy="278.0" r="7.8" fill="#0c6cb8"/><text x="221.6" y="281.9" text-anchor="middle" font-family="Liberation Sans, sans-serif" font-weight="bold" font-size="11" letter-spacing="-0.6" fill="#fff">22</text>
<circle cx="351.8" cy="216.9" r="8.8" fill="#fff"/><circle cx="351.8" cy="216.9" r="7.8" fill="#0c6cb8"/><text x="351.5" y="220.8" text-anchor="middle" font-family="Liberation Sans, sans-serif" font-weight="bold" font-size="11" letter-spacing="-0.6" fill="#fff">23</text>
<circle cx="192.9" cy="109.4" r="70.8" fill="#444" fill-opacity="0.34" filter="url(#blur)"/>
<path d="M261.8,97.4 C262.5,102.0 263.8,115.3 266.0,124.9 C268.2,134.5 270.8,144.8 274.8,154.8 C278.8,164.8 284.4,174.8 289.8,184.8 C295.2,194.8 303.0,207.5 307.2,215.0 C311.4,222.5 310.3,223.8 314.9,230.0 C319.5,236.2 327.4,244.2 334.9,252.5 C342.4,260.8 353.0,272.2 359.9,279.9 C366.8,287.6 373.5,295.5 376.2,298.6 A5.6,5.6 0 0 1 367.6,307.2 L367.6,307.2 C364.2,303.9 354.9,295.3 347.4,287.4 C339.9,279.5 331.5,269.6 322.4,260.0 C313.2,250.4 299.6,236.7 292.5,230.0 C285.4,223.3 285.3,224.1 279.9,220.0 C274.4,215.9 267.3,210.4 259.8,205.5 C252.3,200.6 243.1,194.8 234.8,190.5 C226.5,186.2 218.2,182.4 209.9,179.8 C201.6,177.2 189.1,175.6 184.9,174.8 L192.9,107.4 Z" fill="#444" fill-opacity="0.10" filter="url(#blur2)" transform="translate(0,2)"/>
<path d="M261.8,97.4 C262.5,102.0 263.8,115.3 266.0,124.9 C268.2,134.5 270.8,144.8 274.8,154.8 C278.8,164.8 284.4,174.8 289.8,184.8 C295.2,194.8 303.0,207.5 307.2,215.0 C311.4,222.5 310.3,223.8 314.9,230.0 C319.5,236.2 327.4,244.2 334.9,252.5 C342.4,260.8 353.0,272.2 359.9,279.9 C366.8,287.6 373.5,295.5 376.2,298.6 A5.6,5.6 0 0 1 367.6,307.2 L367.6,307.2 C364.2,303.9 354.9,295.3 347.4,287.4 C339.9,279.5 331.5,269.6 322.4,260.0 C313.2,250.4 299.6,236.7 292.5,230.0 C285.4,223.3 285.3,224.1 279.9,220.0 C274.4,215.9 267.3,210.4 259.8,205.5 C252.3,200.6 243.1,194.8 234.8,190.5 C226.5,186.2 218.2,182.4 209.9,179.8 C201.6,177.2 189.1,175.6 184.9,174.8 L192.9,107.4 Z" fill="#f0eee0" fill-opacity="0.6" stroke="#fff" stroke-width="1.4" stroke-opacity="0.75" stroke-linejoin="round"/>
<circle cx="192.9" cy="107.4" r="69.3" fill="#fff"/><circle cx="192.9" cy="107.4" r="67.7" fill="url(#bub)"/>
<circle cx="372" cy="303" r="4.4" fill="#fff" fill-opacity="0.7"/><circle cx="372" cy="303" r="2.1" fill="#8a8a88"/>
<circle cx="649.2" cy="158.7" r="70.8" fill="#444" fill-opacity="0.34" filter="url(#blur)"/>
<path d="M659.8,226.0 C655.2,226.6 641.1,227.9 632.4,229.8 C623.7,231.7 615.7,234.2 607.4,237.3 C599.1,240.4 590.7,244.3 582.4,248.5 C574.1,252.7 567.2,256.9 557.5,262.3 C547.8,267.7 533.6,275.1 523.9,281.0 C514.1,286.9 505.9,292.9 499.0,298.0 C492.1,303.1 485.1,309.3 482.3,311.6 A5.6,5.6 0 0 1 474.2,303.4 L474.2,303.4 C477.5,300.9 487.4,294.3 494.0,288.7 C500.6,283.1 507.2,275.6 514.0,270.0 C520.8,264.4 529.4,259.8 535.0,254.8 C540.6,249.8 543.3,245.2 547.5,239.8 C551.7,234.4 556.3,228.1 560.0,222.3 C563.7,216.5 567.0,211.0 569.9,204.8 C572.8,198.6 575.5,191.6 577.4,184.9 C579.3,178.2 580.6,168.2 581.2,164.9 L649.2,156.7 Z" fill="#444" fill-opacity="0.10" filter="url(#blur2)" transform="translate(0,2)"/>
<path d="M659.8,226.0 C655.2,226.6 641.1,227.9 632.4,229.8 C623.7,231.7 615.7,234.2 607.4,237.3 C599.1,240.4 590.7,244.3 582.4,248.5 C574.1,252.7 567.2,256.9 557.5,262.3 C547.8,267.7 533.6,275.1 523.9,281.0 C514.1,286.9 505.9,292.9 499.0,298.0 C492.1,303.1 485.1,309.3 482.3,311.6 A5.6,5.6 0 0 1 474.2,303.4 L474.2,303.4 C477.5,300.9 487.4,294.3 494.0,288.7 C500.6,283.1 507.2,275.6 514.0,270.0 C520.8,264.4 529.4,259.8 535.0,254.8 C540.6,249.8 543.3,245.2 547.5,239.8 C551.7,234.4 556.3,228.1 560.0,222.3 C563.7,216.5 567.0,211.0 569.9,204.8 C572.8,198.6 575.5,191.6 577.4,184.9 C579.3,178.2 580.6,168.2 581.2,164.9 L649.2,156.7 Z" fill="#f0eee0" fill-opacity="0.6" stroke="#fff" stroke-width="1.4" stroke-opacity="0.75" stroke-linejoin="round"/>
<circle cx="649.2" cy="156.7" r="69.3" fill="#fff"/><circle cx="649.2" cy="156.7" r="67.7" fill="url(#bub)"/>
<circle cx="478.2" cy="307.5" r="4.4" fill="#fff" fill-opacity="0.7"/><circle cx="478.2" cy="307.5" r="2.1" fill="#8a8a88"/>
<circle cx="69.6" cy="310.6" r="70.4" fill="#444" fill-opacity="0.34" filter="url(#blur)"/>
<path d="M133.6,278.7 C136.3,281.8 143.8,292.0 149.8,297.4 C155.8,302.8 163.1,307.2 169.8,311.1 C176.5,315.1 182.4,318.0 189.8,321.1 C197.2,324.2 208.2,327.2 214.0,329.9 C219.8,332.6 216.8,333.6 224.9,337.4 C233.0,341.1 249.9,347.8 262.4,352.4 C274.9,357.0 289.4,361.6 299.8,364.9 C310.2,368.2 319.2,371.0 324.8,372.4 C330.4,373.8 332.0,373.1 333.4,373.2 A5.6,5.6 0 0 1 332.4,384.2 L332.4,384.2 C331.1,383.8 330.2,383.0 324.8,381.6 C319.4,380.2 310.2,378.2 299.8,376.1 C289.4,374.0 274.9,371.0 262.4,368.7 C249.9,366.4 237.4,363.9 224.9,362.4 C212.4,360.9 195.8,360.5 187.5,359.9 C179.2,359.3 181.1,358.6 174.8,358.6 C168.5,358.6 157.3,359.2 149.8,359.8 C142.3,360.4 137.3,360.8 129.8,362.3 C122.3,363.8 113.6,366.1 104.9,368.6 C96.2,371.1 82.0,375.9 77.4,377.3 L69.6,308.6 Z" fill="#444" fill-opacity="0.10" filter="url(#blur2)" transform="translate(0,2)"/>
<path d="M133.6,278.7 C136.3,281.8 143.8,292.0 149.8,297.4 C155.8,302.8 163.1,307.2 169.8,311.1 C176.5,315.1 182.4,318.0 189.8,321.1 C197.2,324.2 208.2,327.2 214.0,329.9 C219.8,332.6 216.8,333.6 224.9,337.4 C233.0,341.1 249.9,347.8 262.4,352.4 C274.9,357.0 289.4,361.6 299.8,364.9 C310.2,368.2 319.2,371.0 324.8,372.4 C330.4,373.8 332.0,373.1 333.4,373.2 A5.6,5.6 0 0 1 332.4,384.2 L332.4,384.2 C331.1,383.8 330.2,383.0 324.8,381.6 C319.4,380.2 310.2,378.2 299.8,376.1 C289.4,374.0 274.9,371.0 262.4,368.7 C249.9,366.4 237.4,363.9 224.9,362.4 C212.4,360.9 195.8,360.5 187.5,359.9 C179.2,359.3 181.1,358.6 174.8,358.6 C168.5,358.6 157.3,359.2 149.8,359.8 C142.3,360.4 137.3,360.8 129.8,362.3 C122.3,363.8 113.6,366.1 104.9,368.6 C96.2,371.1 82.0,375.9 77.4,377.3 L69.6,308.6 Z" fill="#f0eee0" fill-opacity="0.6" stroke="#fff" stroke-width="1.4" stroke-opacity="0.75" stroke-linejoin="round"/>
<circle cx="69.6" cy="308.6" r="68.9" fill="#fff"/><circle cx="69.6" cy="308.6" r="67.30000000000001" fill="url(#bub)"/>
<circle cx="332.2" cy="378.7" r="4.4" fill="#fff" fill-opacity="0.7"/><circle cx="332.2" cy="378.7" r="2.1" fill="#8a8a88"/>
<text x="193" y="71.8" text-anchor="middle" font-family="Liberation Sans, sans-serif" font-weight="bold" font-size="12" fill="#111">Killesberg</text>
<text x="193" y="89.1" text-anchor="middle" font-family="Liberation Sans, sans-serif" font-size="12" fill="#1c1c1c">Toplage mit hohem</text>
<text x="193" y="102.8" text-anchor="middle" font-family="Liberation Sans, sans-serif" font-size="12" fill="#1c1c1c">Prestigefaktor und</text>
<text x="193" y="116.6" text-anchor="middle" font-family="Liberation Sans, sans-serif" font-size="12" fill="#1c1c1c">einmaliger Aussicht</text>
<text x="193" y="130.3" text-anchor="middle" font-family="Liberation Sans, sans-serif" font-size="12" fill="#1c1c1c">auf die Stadt.</text>
<text x="649.2" y="120.3" text-anchor="middle" font-family="Liberation Sans, sans-serif" font-weight="bold" font-size="12" fill="#111">Bad Cannstatt</text>
<text x="649.2" y="137.6" text-anchor="middle" font-family="Liberation Sans, sans-serif" font-size="12" fill="#1c1c1c">Auf dem ehemaligen</text>
<text x="649.2" y="151.3" text-anchor="middle" font-family="Liberation Sans, sans-serif" font-size="12" fill="#1c1c1c">Güterbahnhof und</text>
<text x="649.2" y="165.1" text-anchor="middle" font-family="Liberation Sans, sans-serif" font-size="12" fill="#1c1c1c">am Neckarufer ent-</text>
<text x="649.2" y="178.8" text-anchor="middle" font-family="Liberation Sans, sans-serif" font-size="12" fill="#1c1c1c">stehen hunderte</text>
<text x="649.2" y="192.6" text-anchor="middle" font-family="Liberation Sans, sans-serif" font-size="12" fill="#1c1c1c">neue Wohnungen.</text>
<text x="69.4" y="275.8" text-anchor="middle" font-family="Liberation Sans, sans-serif" font-weight="bold" font-size="12" fill="#111">Stuttgart-West</text>
<text x="69.4" y="293.1" text-anchor="middle" font-family="Liberation Sans, sans-serif" font-size="12" fill="#1c1c1c">Ein buntes</text>
<text x="69.4" y="306.9" text-anchor="middle" font-family="Liberation Sans, sans-serif" font-size="12" fill="#1c1c1c">Multi-Kulti-Milieu</text>
<text x="69.4" y="320.6" text-anchor="middle" font-family="Liberation Sans, sans-serif" font-size="12" fill="#1c1c1c">macht das Quartier</text>
<text x="69.4" y="334.4" text-anchor="middle" font-family="Liberation Sans, sans-serif" font-size="12" fill="#1c1c1c">zum angesagten</text>
<text x="69.4" y="348.1" text-anchor="middle" font-family="Liberation Sans, sans-serif" font-size="12" fill="#1c1c1c">In-Viertel.</text>
<rect x="17.1" y="640" width="21.7" height="23" fill="#0b73c6"/><path d="M19.9,650.7 Q27,649.8 29.4,644.3 L31,644.3 L31,650.7 L38.8,650.7 L38.8,652.8 L31,652.8 L31,663 L26.3,663 L26.3,652.8 L19.9,652.8 Z" fill="#fff"/>
</svg>
<div class="title">Preise für Eigentumswohnungen in Stuttgart</div>
<div class="row" style="top:255px"><span class="bar"></span><span class="num">1</span><span class="nm">Bad Cannstatt</span></div>
<div class="row" style="top:277px"><span class="bar"></span><span class="num">2</span><span class="nm">Birkach</span></div>
<div class="row" style="top:299px"><span class="bar"></span><span class="num">3</span><span class="nm">Botnang</span></div>
<div class="row" style="top:321px"><span class="bar"></span><span class="num">4</span><span class="nm">Degerloch</span></div>
<div class="row" style="top:343px"><span class="bar"></span><span class="num">5</span><span class="nm">Feuerbach</span></div>
<div class="row" style="top:365px"><span class="bar"></span><span class="num">6</span><span class="nm">Hedelfingen</span></div>
<div class="row" style="top:387px"><span class="bar"></span><span class="num">7</span><span class="nm">Möhringen</span></div>
<div class="row" style="top:409px"><span class="bar"></span><span class="num">8</span><span class="nm">Mühlhausen</span></div>
<div class="row" style="top:431px"><span class="bar"></span><span class="num">9</span><span class="nm">Münster</span></div>
<div class="row" style="top:453px"><span class="bar"></span><span class="num two">10</span><span class="nm">Obertürkheim</span></div>
<div class="row" style="top:475px"><span class="bar"></span><span class="num two">11</span><span class="nm">Plieningen</span></div>
<div class="row" style="top:497px"><span class="bar"></span><span class="num two">12</span><span class="nm">Sillenbuch</span></div>
<div class="row" style="top:519px"><span class="bar"></span><span class="num two">13</span><span class="nm">Stammheim</span></div>
<div class="row" style="top:541px"><span class="bar"></span><span class="num two">14</span><span class="nm">Stuttgart-Mitte</span></div>
<div class="row" style="top:563px"><span class="bar"></span><span class="num two">15</span><span class="nm">Stuttgart-Nord</span></div>
<div class="row" style="top:585px"><span class="bar"></span><span class="num two">16</span><span class="nm">Stuttgart-Ost</span></div>
<div class="row" style="top:607px"><span class="bar"></span><span class="num two">17</span><span class="nm">Stuttgart-Süd</span></div>
<div class="row" style="top:629px"><span class="bar"></span><span class="num two">18</span><span class="nm">Stuttgart-West</span></div>
<div class="row" style="top:651px"><span class="bar"></span><span class="num two">19</span><span class="nm">Untertürkheim</span></div>
<div class="row" style="top:673px"><span class="bar"></span><span class="num two">20</span><span class="nm">Vaihingen</span></div>
<div class="row" style="top:695px"><span class="bar"></span><span class="num two">21</span><span class="nm">Wangen</span></div>
<div class="row" style="top:717px"><span class="bar"></span><span class="num two">22</span><span class="nm">Weilimdorf</span></div>
<div class="row" style="top:739px"><span class="bar"></span><span class="num two">23</span><span class="nm">Zuffenhausen</span></div>
<div class="t" style="left:43px;top:649.3px;font-size:11.9px;font-weight:bold;">Finanztest Spezial Immobilien</div>
<div class="t lg" style="left:17px;top:689.6px;">Durchschnittlicher Preis pro Quadratmeter Wohnfläche</div>
<div class="sw" style="left:17px;top:713.2px;background:#86a51c"></div>
<div class="t lg" style="left:42px;top:716.3px;">Unter 2 100 Euro</div>
<div class="sw" style="left:17px;top:740px;background:#f3dc16"></div>
<div class="t lg" style="left:42px;top:743.3px;">Von 2 100 Euro bis unter 2 500 Euro</div>
<div class="sw" style="left:269px;top:713.2px;background:#ea7d12"></div>
<div class="t lg" style="left:294px;top:716.3px;">Von 2 500 Euro bis unter 2 900 Euro</div>
<div class="sw" style="left:269px;top:740px;background:#bd1a2b"></div>
<div class="t lg" style="left:294px;top:743.3px;">Ab 2 900 Euro</div>
<div class="t" style="left:550px;top:732px;font-size:10.7px;font-weight:bold;line-height:12.5px;">Quelle: vdpResearch,<br>Stand: 4. Quartal 2013</div>
</body></html>
